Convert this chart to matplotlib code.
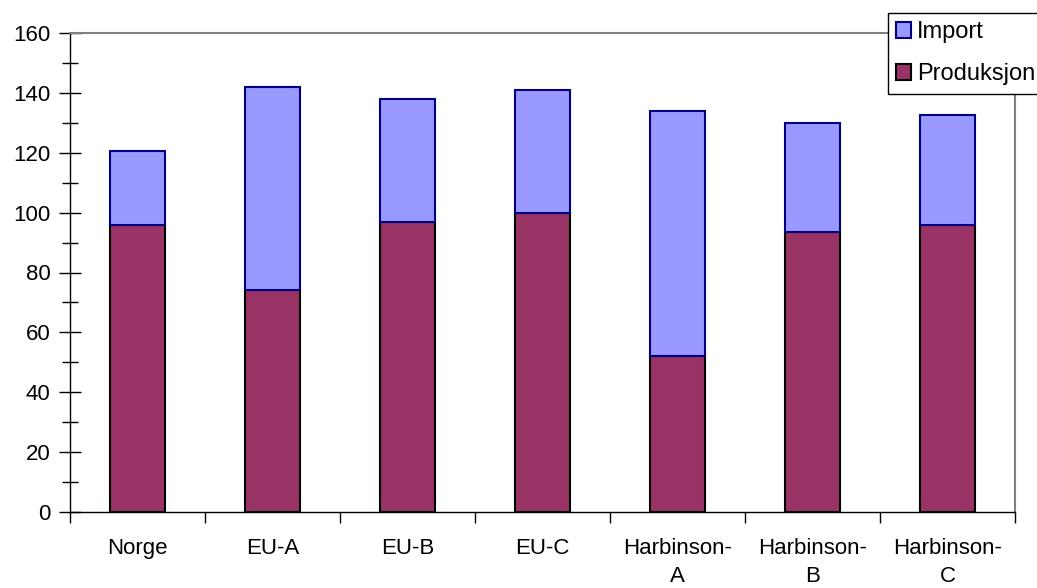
import numpy as np
import matplotlib
matplotlib.use('Agg')
import matplotlib.pyplot as plt
from matplotlib.ticker import MultipleLocator

plt.rcParams['font.family'] = ['Liberation Sans', 'DejaVu Sans']

kategorier = ['Norge', 'EU-A', 'EU-B', 'EU-C', 'Harbinson-\nA', 'Harbinson-\nB', 'Harbinson-\nC']
produksjon = [96, 74, 97, 100, 52, 93.5, 96]
totalt = [120.5, 142, 138, 141, 134, 130, 132.5]
import_ = [t - p for t, p in zip(totalt, produksjon)]

fig = plt.figure(figsize=(10.37, 5.88), dpi=100)
ax = fig.add_axes([70/1037, 76/588, 945/1037, 479/588])

x = np.arange(len(kategorier))
b1 = ax.bar(x, produksjon, width=0.41, color='#993366', edgecolor='black', linewidth=1.5, label='Produksjon')
b2 = ax.bar(x, import_, bottom=produksjon, width=0.41, color='#9999FF', edgecolor='#000080', linewidth=1.5, label='Import')

ax.set_xlim(-0.5, len(kategorier) - 0.5)
ax.set_ylim(0, 160)
ax.yaxis.set_major_locator(MultipleLocator(20))
ax.yaxis.set_minor_locator(MultipleLocator(10))
ax.tick_params(axis='y', which='major', direction='inout', length=16, width=1, labelsize=16, pad=6)
ax.tick_params(axis='y', which='minor', direction='inout', length=12, width=1)
ax.set_xticks(x)
ax.set_xticklabels(kategorier, fontsize=16, linespacing=1.4)
ax.tick_params(axis='x', which='major', length=0, pad=19)
ax.set_xticks(np.arange(len(kategorier) + 1) - 0.5, minor=True)
ax.tick_params(axis='x', which='minor', direction='out', length=8, width=1)

for s in ['top', 'right']:
    ax.spines[s].set_color('#808080')
    ax.spines[s].set_linewidth(1.5)
for s in ['left', 'bottom']:
    ax.spines[s].set_color('black')
    ax.spines[s].set_linewidth(1)

leg = fig.legend([b2, b1], ['Import', 'Produksjon'], loc='upper left',
                 bbox_to_anchor=(888/1037, 1 - 13/588), fontsize=17,
                 handlelength=0.62, handleheight=0.62, handletextpad=0.25,
                 labelspacing=0.85, borderpad=0.35, borderaxespad=0,
                 fancybox=False, framealpha=1, edgecolor='black')
leg.get_frame().set_linewidth(1)

fig.savefig('out.png', dpi=100)
